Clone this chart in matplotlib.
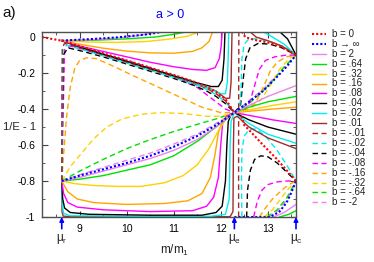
import matplotlib
matplotlib.use("Agg")
import matplotlib.pyplot as plt
from matplotlib.lines import Line2D
from matplotlib.ticker import MultipleLocator

# special masses on the x axis
mu_names = ["μ$_\\mathregular{r}$", "μ$_\\mathregular{e}$", "μ$_\\mathregular{c}$"]
mu_vals = [8.62, 12.29, 13.6]

legend_labels = ["b = 0", "b → ∞", "b = 2", "b = .64", "b = .32", "b = .16",
                 "b = .08", "b = .04", "b = .02", "b = .01", "b = -.01", "b = -.02",
                 "b = -.04", "b = -.08", "b = -.16", "b = -.32", "b = -.64", "b = -2"]

# ---- b = 0 (red dotted)
b0_a = [(8.2, 0.0), (8.4, -0.01), (8.62, -0.02)]
b0_b = [(8.62, -0.02), (9.0, -0.05), (9.5, -0.09), (10.0, -0.13), (10.5, -0.17), (11.0, -0.21),
        (11.4, -0.245), (11.7, -0.275), (11.9, -0.305), (12.1, -0.345), (12.29, -0.42)]
b0_c = [(12.45, 0.03), (12.52, 0.0), (12.7, -0.015), (13.0, -0.03), (13.3, -0.055), (13.6, -0.1)]
b0_d = [(12.44, -0.44), (12.5, -0.49), (12.65, -0.53), (12.9, -0.6), (13.2, -0.68), (13.4, -0.74), (13.6, -0.8)]

# ---- b -> inf (blue dotted)
binf_a = [(8.62, -0.02), (9.2, -0.012), (9.8, -0.002), (10.4, 0.014), (10.8, 0.03)]
binf_b = [(8.62, -0.8), (9.0, -0.77), (9.5, -0.735), (10.0, -0.7), (10.5, -0.66), (11.0, -0.61),
          (11.5, -0.55), (11.9, -0.49), (12.29, -0.42), (12.6, -0.36), (12.9, -0.3), (13.2, -0.22),
          (13.4, -0.165), (13.6, -0.1)]
binf_c = [(12.29, -1.0), (13.05, -1.0), (13.25, -0.97), (13.4, -0.92), (13.5, -0.865), (13.6, -0.8)]

# ---- positive b (solid)
p2_hi = [(8.62, -0.02), (9.2, -0.016), (9.8, -0.006), (10.3, 0.01), (10.7, 0.03)]
p2_lo = [(8.62, -0.8), (9.0, -0.78), (9.5, -0.745), (10.0, -0.71), (10.5, -0.675), (11.0, -0.63),
         (11.5, -0.57), (11.9, -0.5), (12.29, -0.42), (12.6, -0.38), (13.0, -0.33), (13.3, -0.3), (13.6, -0.27)]
p2_br = [(13.12, -1.0), (13.35, -0.975), (13.6, -0.93)]

p064_hi = [(8.62, -0.02), (9.3, -0.018), (10.0, -0.01), (10.6, 0.0), (11.0, 0.015), (11.3, 0.03)]
p064_lo = [(8.62, -0.8), (9.0, -0.79), (9.5, -0.77), (10.0, -0.74), (10.5, -0.71), (11.0, -0.66),
           (11.5, -0.58), (11.9, -0.5), (12.1, -0.46), (12.29, -0.42), (12.6, -0.39), (13.0, -0.36), (13.6, -0.33)]
p064_br = [(13.25, -1.0), (13.45, -0.985), (13.6, -0.965)]

p032_hi = [(8.62, -0.02), (9.2, -0.028), (9.8, -0.03), (10.4, -0.025), (10.9, -0.012), (11.3, 0.005), (11.55, 0.03)]
p032_lo = [(8.62, -0.8), (8.9, -0.815), (9.3, -0.825), (9.8, -0.83), (10.3, -0.83), (10.8, -0.81),
           (11.2, -0.77), (11.5, -0.71), (11.75, -0.62), (11.95, -0.52), (12.1, -0.46), (12.29, -0.42),
           (12.7, -0.4), (13.1, -0.38), (13.6, -0.36)]

p016_hi = [(8.62, -0.02), (9.0, -0.04), (9.5, -0.062), (10.0, -0.078), (10.5, -0.088), (11.0, -0.09),
           (11.4, -0.08), (11.6, -0.06), (11.75, -0.025), (11.83, 0.03)]
p016_lo = [(8.62, -0.8), (8.75, -0.86), (8.95, -0.9), (9.3, -0.92), (10.0, -0.93), (10.8, -0.925),
           (11.3, -0.91), (11.6, -0.87), (11.78, -0.78), (11.88, -0.65), (11.95, -0.53), (12.05, -0.46),
           (12.29, -0.42), (12.7, -0.41), (13.1, -0.4), (13.6, -0.39)]

p008_hi = [(8.62, -0.02), (9.0, -0.05), (9.5, -0.08), (10.0, -0.11), (10.5, -0.14), (11.0, -0.165),
           (11.4, -0.18), (11.7, -0.185), (11.88, -0.17), (11.97, -0.12), (12.01, -0.05), (12.03, 0.03)]
p008_lo = [(8.62, -0.8), (8.66, -0.87), (8.75, -0.92), (8.95, -0.945), (9.5, -0.96), (10.5, -0.97),
           (11.4, -0.965), (11.7, -0.94), (11.85, -0.89), (11.95, -0.78), (12.0, -0.6), (12.04, -0.48),
           (12.12, -0.44), (12.29, -0.42), (12.7, -0.44), (13.1, -0.46), (13.6, -0.48)]

p004_hi = [(8.62, -0.02), (9.0, -0.055), (9.5, -0.095), (10.0, -0.135), (10.5, -0.175), (11.0, -0.215),
           (11.5, -0.255), (11.8, -0.275), (11.95, -0.275), (12.03, -0.24), (12.07, -0.12), (12.09, 0.03)]
p004_lo = [(8.62, -0.8), (8.64, -0.9), (8.68, -0.95), (8.8, -0.975), (9.2, -0.985), (10.5, -0.99),
           (11.6, -0.99), (11.9, -0.975), (12.03, -0.94), (12.1, -0.8), (12.13, -0.6), (12.16, -0.47),
           (12.22, -0.43), (12.29, -0.42), (12.6, -0.46), (13.0, -0.5), (13.6, -0.54)]
p004_top = [(13.25, 0.03), (13.42, -0.01), (13.6, -0.1)]

p002_hi = [(8.62, -0.02), (9.0, -0.055), (9.5, -0.095), (10.0, -0.135), (10.5, -0.175), (11.0, -0.215),
           (11.5, -0.26), (11.8, -0.29), (12.0, -0.315), (12.1, -0.315), (12.14, -0.25), (12.16, -0.1), (12.17, 0.03)]
p002_lo = [(8.62, -0.8), (8.63, -0.93), (8.66, -0.98), (8.8, -0.993), (10.0, -0.996), (11.8, -0.996),
           (12.1, -0.985), (12.18, -0.9), (12.2, -0.6), (12.22, -0.47), (12.29, -0.42), (12.6, -0.48),
           (13.0, -0.54), (13.6, -0.59)]
p002_top = [(12.9, 0.03), (13.1, 0.0), (13.35, -0.04), (13.6, -0.1)]

p001_hi = [(8.62, -0.02), (9.0, -0.055), (10.0, -0.135), (11.0, -0.215), (11.5, -0.26), (11.9, -0.3),
           (12.1, -0.34), (12.19, -0.34), (12.22, -0.25), (12.23, -0.1), (12.24, 0.03)]
p001_lo = [(8.62, -0.8), (8.625, -0.97), (8.65, -0.995), (8.8, -0.998), (12.2, -0.998), (12.26, -0.97),
           (12.27, -0.6), (12.28, -0.45), (12.35, -0.44), (12.6, -0.5), (13.0, -0.56), (13.6, -0.62)]
p001_top = [(12.62, 0.03), (12.75, 0.0), (13.0, -0.02), (13.3, -0.05), (13.6, -0.1)]

# ---- negative b (dashed)
m001_a = [(8.62, -0.8), (8.625, -0.3), (8.63, -0.06), (8.68, -0.035), (9.0, -0.06), (9.5, -0.1),
          (10.0, -0.14), (10.5, -0.18), (11.0, -0.22), (11.4, -0.255), (11.7, -0.285), (11.9, -0.315),
          (12.1, -0.355), (12.29, -0.42)]
m001_b = [(12.38, -1.0), (12.38, -0.5), (12.385, 0.03)]

m002_a = [(8.62, -0.8), (8.63, -0.3), (8.64, -0.08), (8.72, -0.045), (9.0, -0.065), (9.5, -0.105),
          (10.0, -0.145), (10.5, -0.185), (11.0, -0.225), (11.4, -0.26), (11.7, -0.29), (11.9, -0.32),
          (12.1, -0.36), (12.29, -0.42)]
m002_b = [(12.29, -0.42), (12.4, -0.4), (12.43, -0.3), (12.45, -0.12), (12.5, -0.04), (12.6, -0.01),
          (12.8, -0.01), (13.1, -0.03), (13.4, -0.06), (13.6, -0.1)]
m002_c = [(12.45, -1.0), (12.44, -0.8), (12.45, -0.63), (12.5, -0.55), (12.6, -0.515), (12.75, -0.51),
          (12.95, -0.55), (13.2, -0.63), (13.4, -0.71), (13.6, -0.8)]

m004_a = [(8.62, -0.8), (8.64, -0.3), (8.65, -0.1), (8.75, -0.06), (9.0, -0.075), (9.5, -0.11),
          (10.0, -0.15), (10.5, -0.19), (11.0, -0.23), (11.4, -0.265), (11.7, -0.3), (11.9, -0.33),
          (12.1, -0.37), (12.29, -0.42)]
m004_b = [(12.29, -0.42), (12.42, -0.38), (12.47, -0.25), (12.53, -0.12), (12.62, -0.06), (12.8, -0.035),
          (13.05, -0.04), (13.3, -0.06), (13.6, -0.1)]
m004_c = [(12.55, -1.0), (12.57, -0.85), (12.63, -0.74), (12.72, -0.68), (12.85, -0.66), (13.0, -0.665),
          (13.2, -0.7), (13.4, -0.75), (13.6, -0.8)]

m008_a = [(8.62, -0.8), (8.66, -0.3), (8.68, -0.07), (8.8, -0.05), (9.3, -0.085), (10.0, -0.13),
          (10.5, -0.17), (11.0, -0.22), (11.5, -0.28), (11.9, -0.36), (12.1, -0.4), (12.29, -0.42)]
m008_b = [(12.29, -0.42), (12.5, -0.41), (12.62, -0.36), (12.72, -0.27), (12.82, -0.18), (12.95, -0.13),
          (13.15, -0.11), (13.4, -0.1), (13.6, -0.1)]
m008_c = [(12.7, -1.0), (12.78, -0.91), (12.88, -0.85), (13.0, -0.82), (13.2, -0.805), (13.4, -0.8), (13.6, -0.8)]

m016_a = [(8.62, -0.8), (8.66, -0.65), (8.72, -0.45), (8.8, -0.28), (8.9, -0.17), (9.0, -0.13),
          (9.15, -0.115), (9.35, -0.12), (9.7, -0.16), (10.1, -0.21), (10.6, -0.27), (11.1, -0.33),
          (11.6, -0.39), (12.0, -0.42), (12.29, -0.42)]
m016_b = [(12.29, -0.42), (12.55, -0.41), (12.75, -0.36), (12.92, -0.27), (13.05, -0.19), (13.2, -0.14),
          (13.4, -0.11), (13.6, -0.1)]
m016_c = [(12.82, -1.0), (12.95, -0.95), (13.1, -0.9), (13.3, -0.85), (13.45, -0.82), (13.6, -0.8)]

m032_a = [(8.62, -0.8), (8.8, -0.72), (9.06, -0.64), (9.3, -0.565), (9.58, -0.5), (9.9, -0.455),
          (10.3, -0.43), (10.7, -0.42), (11.2, -0.425), (11.7, -0.44), (12.0, -0.44), (12.29, -0.42)]
m032_b = [(12.29, -0.42), (12.6, -0.4), (12.85, -0.35), (13.05, -0.27), (13.25, -0.18), (13.45, -0.12), (13.6, -0.1)]
m032_c = [(12.92, -1.0), (13.1, -0.96), (13.3, -0.89), (13.45, -0.84), (13.6, -0.8)]

m064_a = [(8.62, -0.8), (9.0, -0.745), (9.5, -0.68), (10.0, -0.62), (10.5, -0.57), (11.0, -0.525),
          (11.5, -0.485), (11.9, -0.455), (12.29, -0.42)]
m064_b = [(12.29, -0.42), (12.6, -0.37), (12.9, -0.3), (13.15, -0.23), (13.35, -0.165), (13.6, -0.1)]
m064_c = [(12.98, -1.0), (13.2, -0.96), (13.4, -0.895), (13.6, -0.8)]

m2_a = [(8.62, -0.8), (9.0, -0.765), (9.5, -0.725), (10.0, -0.685), (10.5, -0.645), (11.0, -0.595),
        (11.5, -0.54), (11.9, -0.48), (12.29, -0.42)]
m2_b = [(12.29, -0.42), (12.6, -0.355), (12.9, -0.29), (13.2, -0.21), (13.4, -0.155), (13.6, -0.1)]
m2_c = [(13.02, -1.0), (13.22, -0.965), (13.42, -0.9), (13.6, -0.8)]

RED, BLUE, VIOLET, GREEN = "#ff0000", "#0000ff", "#ee82ee", "#00e000"
YELLOW, ORANGE, MAGENTA, BLACK = "#ffd000", "#ffa500", "#ff00ff", "#000000"
CYAN, BROWN = "#00eeee", "#a52a2a"

DOT = (0, (1, 1))
DASH = (0, (4, 2.5))

series = [
    ([b0_a, b0_b, b0_c, b0_d], RED, DOT, 1.5),
    ([binf_a, binf_b, binf_c], BLUE, DOT, 1.5),
    ([p2_hi, p2_lo, p2_br], VIOLET, "-", 1.0),
    ([p064_hi, p064_lo, p064_br], GREEN, "-", 1.0),
    ([p032_hi, p032_lo], YELLOW, "-", 1.0),
    ([p016_hi, p016_lo], ORANGE, "-", 1.0),
    ([p008_hi, p008_lo], MAGENTA, "-", 1.0),
    ([p004_hi, p004_lo, p004_top], BLACK, "-", 1.0),
    ([p002_hi, p002_lo, p002_top], CYAN, "-", 1.0),
    ([p001_hi, p001_lo, p001_top], BROWN, "-", 1.0),
    ([m001_a, m001_b], BROWN, DASH, 1.0),
    ([m002_a, m002_b, m002_c], CYAN, DASH, 1.0),
    ([m004_a, m004_b, m004_c], BLACK, DASH, 1.0),
    ([m008_a, m008_b, m008_c], MAGENTA, DASH, 1.0),
    ([m016_a, m016_b, m016_c], ORANGE, DASH, 1.0),
    ([m032_a, m032_b, m032_c], YELLOW, DASH, 1.0),
    ([m064_a, m064_b, m064_c], GREEN, DASH, 1.0),
    ([m2_a, m2_b, m2_c], VIOLET, DASH, 1.0),
]

plt.rcParams['font.family'] = ['Liberation Sans', 'DejaVu Sans']
plt.rcParams['mathtext.default'] = 'regular'

W, H = 374, 262
fig = plt.figure(figsize=(W / 100, H / 100), dpi=100)
ax = fig.add_axes([42 / W, 1 - 217 / H, (296 - 42) / W, (217 - 32) / H])

# draw in reverse so b=0 / b=inf end up on top
for parts, color, ls, lw in reversed(series):
    for pts in parts:
        xs = [p[0] for p in pts]
        ys = [p[1] for p in pts]
        ax.plot(xs, ys, color=color, ls=ls, lw=lw)

ax.set_xlim(8.2, 13.6)
ax.set_ylim(-1.0, 0.028)
ax.set_xticks([9, 10, 11, 12, 13])
ax.set_xticklabels(["9", "10", "11", "12", "13"])
ax.set_yticks([0, -0.2, -0.4, -0.6, -0.8, -1])
ax.set_yticklabels(["0", "-0.2", "-0.4", "-0.6", "-0.8", "-1"])
ax.xaxis.set_minor_locator(MultipleLocator(0.5))
ax.yaxis.set_minor_locator(MultipleLocator(0.1))
ax.tick_params(which="both", direction="in", top=True, right=True, labelsize=7.5,
               color="#404040")
ax.tick_params(which="major", length=4, pad=5)
ax.tick_params(which="minor", length=2)
for s in ax.spines.values():
    s.set_color("#505050")
    s.set_linewidth(1.0)

# special points under the x axis
for name, xv in zip(mu_names, mu_vals):
    ax.annotate("", xy=(xv, -1.0), xytext=(xv, -1.065), xycoords="data", textcoords="data",
                arrowprops=dict(arrowstyle="-|>", color=BLUE, lw=1.2, mutation_scale=6,
                                shrinkA=0, shrinkB=0), annotation_clip=False)
    ax.text(xv, -1.085, name, ha="center", va="top", fontsize=8.5, color="#222222", clip_on=False)

fig.text(175 / W, 1 - 250 / H, "m/m$_1$", ha="center", va="center", fontsize=8.5, color="#222222")
fig.text(3 / W, 1 - 127 / H, "1/E - 1", ha="left", va="center", fontsize=8, color="#222222")
fig.text(170 / W, 1 - 15 / H, "a > 0", ha="center", va="center", fontsize=9, color=BLUE)
fig.text(2 / W, 1 - 13 / H, "a)", ha="left", va="center", fontsize=11, color="#111111")

# legend drawn by hand, outside the plot on the right
for i, (label, (parts, color, ls, lw)) in enumerate(zip(legend_labels, series)):
    yp = 1 - (34 + i * 9.9) / H
    fig.add_artist(Line2D([312 / W, 326 / W], [yp, yp], color=color, ls=ls, lw=lw,
                          transform=fig.transFigure))
    fig.text(332 / W, yp, label, ha="left", va="center", fontsize=7, color="#222222")

fig.savefig("out.png", dpi=100)
